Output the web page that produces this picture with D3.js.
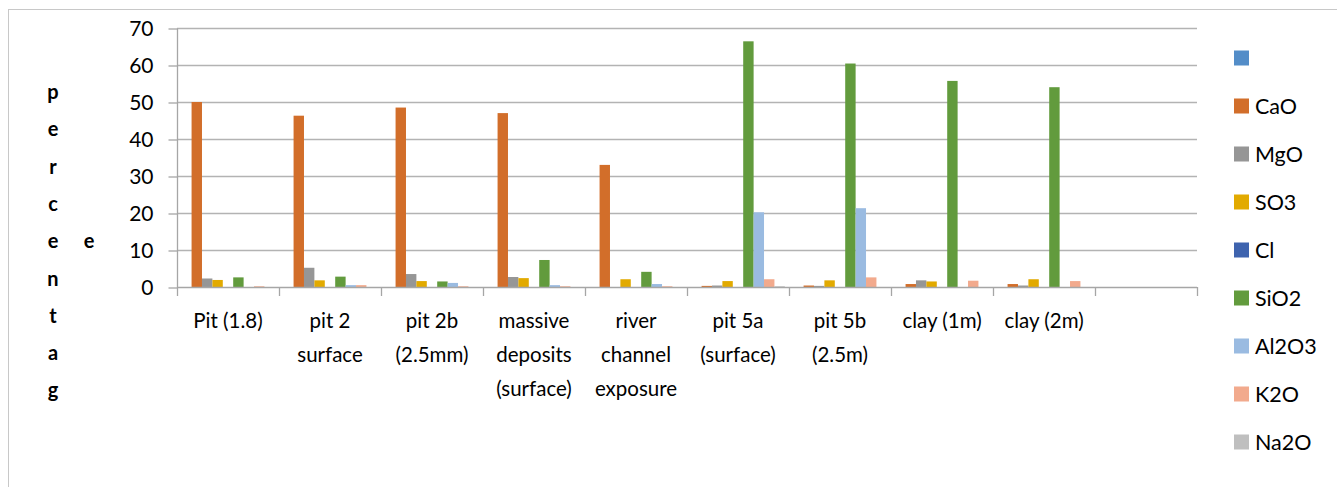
<!DOCTYPE html>
<html>
<head>
<meta charset="utf-8">
<style>
body { margin: 0; background: #fff; }
svg text { font-family: Lato, "Open Sans", sans-serif; fill: #000; }
</style>
</head>
<body>
<svg width="1337" height="487"></svg>
<script src="https://d3js.org/d3.v7.min.js"></script>
<script>
// sample names (line breaks as in the original wrapping)
var categories = ["Pit (1.8)", "pit 2\nsurface", "pit 2b\n(2.5mm)", "massive\ndeposits\n(surface)",
  "river\nchannel\nexposure", "pit 5a\n(surface)", "pit 5b\n(2.5m)", "clay (1m)", "clay (2m)", ""];
var seriesNames = ["", "CaO", "MgO", "SO3", "Cl", "SiO2", "Al2O3", "K2O", "Na2O"];
var colors = ["#538dc8", "#d26e2a", "#969696", "#e2aa00", "#3e63ae", "#629b3d", "#9abbe1", "#f2aa8d", "#bfbfbf"];

var blank = [0, 0, 0, 0, 0, 0, 0, 0, 0, 0];
var CaO   = [50, 46.3, 48.5, 47, 33, 0.3, 0.4, 0.8, 0.8, 0];
var MgO   = [2.3, 5.2, 3.5, 2.7, 0, 0.4, 0.3, 1.8, 0.4, 0];
var SO3   = [1.9, 1.8, 1.6, 2.4, 2.1, 1.6, 1.8, 1.5, 2.1, 0];
var Cl    = [0, 0, 0, 0, 0, 0, 0, 0, 0, 0];
var SiO2  = [2.6, 2.8, 1.5, 7.3, 4.1, 66.4, 60.4, 55.7, 54, 0];
var Al2O3 = [0, 0.5, 1.1, 0.5, 0.8, 20.2, 21.3, 0, 0, 0];
var K2O   = [0.2, 0.5, 0.2, 0.2, 0.2, 2.1, 2.6, 1.7, 1.6, 0];
var Na2O  = [0, 0, 0, 0, 0, 0.2, 0, 0, 0, 0];
var yTicks = [0, 10, 20, 30, 40, 50, 60, 70];
var yTitle = "percentag";

var values = [blank, CaO, MgO, SO3, Cl, SiO2, Al2O3, K2O, Na2O];

var svg = d3.select("svg");

// chart frame
svg.append("rect")
    .attr("x", 8.5).attr("y", 9.5)
    .attr("width", 1340).attr("height", 490)
    .attr("fill", "none").attr("stroke", "#c8c8c8");

var x0 = d3.scaleBand().domain(d3.range(categories.length)).range([177, 1197]);
var x1 = d3.scaleBand().domain(d3.range(seriesNames.length))
    .range([0, x0.bandwidth()]).paddingOuter(0.4);
var y = d3.scaleLinear().domain([0, 70]).range([287, 28]);

// gridlines
svg.append("g").selectAll("line")
  .data(yTicks.slice(1))
  .enter().append("line")
    .attr("x1", 177).attr("x2", 1197)
    .attr("y1", function(d) { return y(d) + 0.5; })
    .attr("y2", function(d) { return y(d) + 0.5; })
    .attr("stroke", "#b3b3b3").attr("stroke-width", 1.3);

// bars
var groups = svg.append("g").selectAll("g")
  .data(categories)
  .enter().append("g")
    .attr("transform", function(d, i) { return "translate(" + x0(i) + ",0)"; });
groups.selectAll("rect")
  .data(function(d, i) { return values.map(function(v, s) { return {s: s, v: v[i]}; }); })
  .enter().append("rect")
    .attr("x", function(d) { return x1(d.s); })
    .attr("width", x1.bandwidth())
    .attr("y", function(d) { return y(d.v); })
    .attr("height", function(d) { return y(0) - y(d.v); })
    .attr("fill", function(d) { return colors[d.s]; });

// y axis
var yAxis = svg.append("g")
    .attr("transform", "translate(177.5,0.5)")
    .call(d3.axisLeft(y).tickValues(yTicks).tickSize(9).tickPadding(15));
yAxis.selectAll("line, path").attr("stroke", "#a6a6a6").attr("stroke-width", 1.3);
yAxis.select(".domain").attr("d", "M0," + y(70) + "V" + y(0));
yAxis.selectAll("text").attr("font-size", 21).attr("font-family", "Lato, sans-serif").attr("fill", "#000");

// x axis
svg.append("line")
    .attr("x1", 177).attr("x2", 1197).attr("y1", y(0) + 0.5).attr("y2", y(0) + 0.5)
    .attr("stroke", "#a6a6a6").attr("stroke-width", 1.3);
svg.append("g").selectAll("line")
  .data(d3.range(categories.length + 1))
  .enter().append("line")
    .attr("x1", function(d) { return 177.5 + d * x0.bandwidth(); })
    .attr("x2", function(d) { return 177.5 + d * x0.bandwidth(); })
    .attr("y1", y(0)).attr("y2", y(0) + 9)
    .attr("stroke", "#a6a6a6").attr("stroke-width", 1.3);

svg.append("g").selectAll("text")
  .data(categories)
  .enter().append("text")
    .attr("text-anchor", "middle")
    .attr("font-size", 20.5)
    .attr("transform", function(d, i) { return "translate(" + (x0(i) + x0.bandwidth() / 2) + ",0)"; })
  .selectAll("tspan")
  .data(function(d) { return d.split("\n"); })
  .enter().append("tspan")
    .attr("x", 0)
    .attr("y", function(d, i) { return 328 + i * 34; })
    .text(function(d) { return d; });

// y title, stacked letters
svg.append("g").selectAll("text")
  .data(yTitle.split(""))
  .enter().append("text")
    .attr("x", 53).attr("y", function(d, i) { return 99 + i * 37.3; })
    .attr("text-anchor", "middle")
    .attr("font-size", 20).attr("font-weight", "bold")
    .text(function(d) { return d; });
svg.append("text")
    .attr("x", 89).attr("y", 248)
    .attr("text-anchor", "middle")
    .attr("font-size", 20).attr("font-weight", "bold")
    .text("e");

// legend
var legend = svg.append("g").selectAll("g")
  .data(seriesNames)
  .enter().append("g")
    .attr("transform", function(d, i) { return "translate(1234," + (58 + i * 48) + ")"; });
legend.append("rect")
    .attr("x", 0).attr("y", -7.5)
    .attr("width", 15).attr("height", 15)
    .attr("fill", function(d, i) { return colors[i]; });
legend.append("text")
    .attr("x", 21).attr("y", 0).attr("dy", "0.36em")
    .attr("font-size", 21.5)
    .text(function(d) { return d; });
</script>
</body>
</html>
